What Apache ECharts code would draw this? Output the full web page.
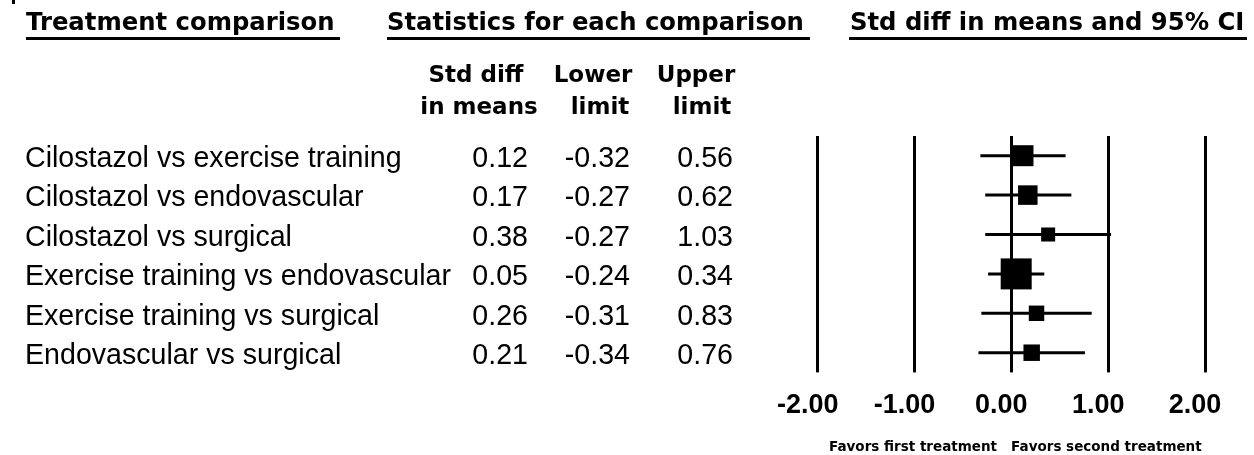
<!DOCTYPE html>
<html>
<head>
<meta charset="utf-8">
<script src="https://cdn.jsdelivr.net/npm/echarts@6/dist/echarts.min.js"></script>
<style>
  html, body { margin: 0; padding: 0; background: #fff; }
  #chart { width: 1254px; height: 455px; }
</style>
</head>
<body>
<div id="chart"></div>
<script>
// ---- data ----
const comparisons = [
  'Cilostazol vs exercise training',
  'Cilostazol vs endovascular',
  'Cilostazol vs surgical',
  'Exercise training vs endovascular',
  'Exercise training vs surgical',
  'Endovascular vs surgical'
];
const stdDiff = [0.12, 0.17, 0.38, 0.05, 0.26, 0.21];
const lowerLimit = [-0.32, -0.27, -0.27, -0.24, -0.31, -0.34];
const upperLimit = [0.56, 0.62, 1.03, 0.34, 0.83, 0.76];
const weights = [17.7, 15.3, 7.9, 38.6, 9.6, 10.9]; // relative weight (box area)
const xTicks = [-2, -1, 0, 1, 2];
const headers = ['Treatment comparison', 'Statistics for each comparison', 'Std diff in means and 95% CI'];
const colHeads = [['Std diff', 'in means'], ['Lower', 'limit'], ['Upper', 'limit']];
const favorsLabel = 'Favors first treatment   Favors second treatment';

// ---- layout ----
const gridLeft = 817.7, gridRight = 49, gridTop = 136, gridHeight = 236.4;
const maxSide = 31;
const maxW = Math.max(...weights);
const boldFont = "'DejaVu Sans'";
const regFont = "'Liberation Sans', Arial";
const rowFontSize = 28.6;

const chart = echarts.init(document.getElementById('chart'), null, { renderer: 'canvas' });

const headerX = [26, 387, 850];
const headerUnder = [[26, 340], [387, 810], [849, 1247]];
const colCenters = [[476, 479], [593, 600], [696, 702]];

const graphics = [];
headers.forEach((h, i) => {
  graphics.push({
    type: 'text', x: headerX[i], y: 23.5,
    style: { text: h, font: 'bold 24.3px ' + boldFont, fill: '#000', textAlign: 'left', textVerticalAlign: 'middle' }
  });
  graphics.push({
    type: 'line',
    shape: { x1: headerUnder[i][0], y1: 38.5, x2: headerUnder[i][1], y2: 38.5 },
    style: { stroke: '#000', lineWidth: 3 }
  });
});
colHeads.forEach((lines, c) => {
  lines.forEach((t, r) => {
    graphics.push({
      type: 'text', x: colCenters[c][r], y: 76 + r * 32,
      style: { text: t, font: 'bold 23px ' + boldFont, fill: '#000', textAlign: 'center', textVerticalAlign: 'middle' }
    });
  });
});
graphics.push({ type: 'rect', shape: { x: 12, y: 0, width: 3, height: 4 }, style: { fill: '#000' } });

const seriesData = comparisons.map((n, i) => [stdDiff[i], i, lowerLimit[i], upperLimit[i], weights[i]]);

const richCell = (w, align) => ({ width: w, align: align, fontFamily: regFont, fontSize: rowFontSize, color: '#000' });

const option = {
  backgroundColor: '#fff',
  animation: false,
  graphic: graphics,
  grid: { left: gridLeft, right: gridRight, top: gridTop, height: gridHeight, containLabel: false, outerBoundsMode: 'none' },
  xAxis: {
    type: 'value',
    min: xTicks[0], max: xTicks[xTicks.length - 1], interval: 1,
    axisLine: { show: false },
    axisTick: { show: false },
    splitLine: { show: true, showMinLine: true, showMaxLine: true, lineStyle: { color: '#000', width: 3 } },
    axisLabel: {
      margin: 20,
      fontFamily: regFont, fontWeight: 'bold', fontSize: 27, color: '#000',
      padding: [0, 20, 0, 0],
      formatter: v => v.toFixed(2)
    },
    name: favorsLabel,
    nameLocation: 'middle',
    nameGap: 68,
    nameTextStyle: { fontFamily: boldFont, fontWeight: 'bold', fontSize: 13.5, color: '#000', padding: [0, 0, 0, 8] }
  },
  yAxis: {
    type: 'category',
    inverse: true,
    data: comparisons,
    axisLine: { show: false },
    axisTick: { show: false },
    splitLine: { show: false },
    axisLabel: {
      interval: 0,
      align: 'left',
      margin: gridLeft - 25,
      padding: [7, 0, 0, 0],
      fontFamily: regFont, fontSize: rowFontSize, color: '#000',
      formatter: (v, i) => '{n|' + v + '}{a|' + stdDiff[i].toFixed(2) + '}{b|' + lowerLimit[i].toFixed(2) + '}{c|' + upperLimit[i].toFixed(2) + '}',
      rich: {
        n: richCell(440, 'left'),
        a: richCell(63, 'right'),
        b: richCell(102, 'right'),
        c: richCell(103, 'right')
      }
    }
  },
  series: [{
    type: 'custom',
    data: seriesData,
    encode: { x: [0, 2, 3], y: 1 },
    renderItem: (params, api) => {
      const row = api.value(1);
      const c = api.coord([api.value(0), row]);
      const lo = api.coord([api.value(2), row]);
      const hi = api.coord([api.value(3), row]);
      const side = maxSide * Math.sqrt(api.value(4) / maxW);
      return {
        type: 'group',
        children: [
          { type: 'line', shape: { x1: lo[0], y1: lo[1], x2: hi[0], y2: hi[1] }, style: { stroke: '#000', lineWidth: 3 } },
          { type: 'rect', shape: { x: c[0] - side / 2, y: c[1] - side / 2, width: side, height: side }, style: { fill: '#000' } }
        ]
      };
    }
  }]
};
chart.setOption(option);
</script>
</body>
</html>
